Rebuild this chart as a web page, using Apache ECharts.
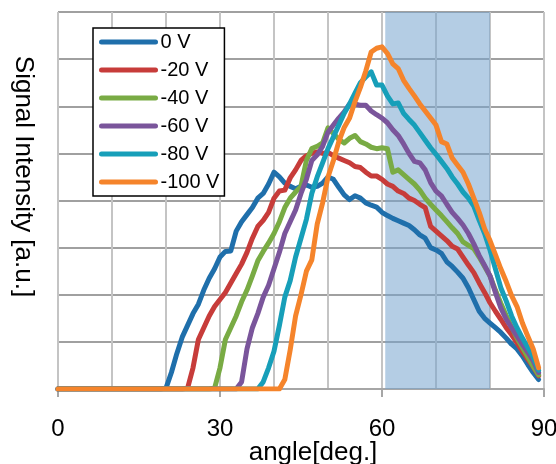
<!DOCTYPE html>
<html><head><meta charset="utf-8">
<script src="https://cdn.jsdelivr.net/npm/echarts@6/dist/echarts.min.js"></script>
<style>html,body{margin:0;padding:0;background:#fff}#c{width:556px;height:464px}</style>
</head><body><div id="c"></div>
<script>
const angles = [0,1,2,3,4,5,6,7,8,9,10,11,12,13,14,15,16,17,18,19,20,21,22,23,24,25,26,27,28,29,30,31,32,33,34,35,36,37,38,39,40,41,42,43,44,45,46,47,48,49,50,51,52,53,54,55,56,57,58,59,60,61,62,63,64,65,66,67,68,69,70,71,72,73,74,75,76,77,78,79,80,81,82,83,84,85,86,87,88,89];
const seriesNames = ['0 V','-20 V','-40 V','-60 V','-80 V','-100 V'];
const v0V = [0,0,0,0,0,0,0,0,0,0,0,0,0,0,0,0,0,0,0,0,
  0.02,0.35,0.75,1.1,1.35,1.6,1.8,2.1,2.35,2.55,2.8,2.92,2.93,3.35,3.55,3.7,3.85,4.05,4.15,4.35,
  4.6,4.5,4.37,4.3,4.25,4.3,4.33,4.28,4.3,4.37,4.5,4.45,4.28,4.12,4.02,4.1,4.05,3.95,3.9,3.86,
  3.75,3.68,3.62,3.57,3.52,3.47,3.38,3.27,3.2,3.0,2.95,2.88,2.7,2.6,2.48,2.35,2.15,1.9,1.65,1.5,
  1.4,1.3,1.2,1.08,0.95,0.85,0.7,0.52,0.35,0.2];
const vM20V = [0,0,0,0,0,0,0,0,0,0,0,0,0,0,0,0,0,0,0,0,0,0,0,0,
  0.02,0.45,1.05,1.3,1.55,1.75,1.9,2.05,2.25,2.45,2.65,2.9,3.2,3.45,3.58,3.75,
  4.05,4.2,4.22,4.48,4.65,4.85,4.95,5.0,5.03,5.0,5.02,4.95,4.9,4.85,4.8,4.72,4.7,4.6,4.52,4.52,
  4.45,4.35,4.3,4.2,4.15,4.05,4.0,3.92,3.85,3.45,3.35,3.25,3.15,3.03,2.97,2.8,2.63,2.47,2.25,2.05,
  1.83,1.65,1.48,1.3,1.15,0.98,0.8,0.63,0.47,0.28];
const vM40V = [0,0,0,0,0,0,0,0,0,0,0,0,0,0,0,0,0,0,0,0,0,0,0,0,0,0,0,0,0,0.02,
  0.45,1.05,1.3,1.55,1.85,2.1,2.4,2.72,2.92,3.1,
  3.3,3.55,3.85,4.05,4.18,4.3,4.85,5.1,5.15,5.22,5.54,5.42,5.3,5.22,5.32,5.38,5.25,5.2,5.13,5.1,
  5.12,5.1,4.6,4.65,4.55,4.45,4.35,4.22,4.05,3.92,3.8,3.68,3.55,3.42,3.3,3.12,3.05,2.98,2.8,2.6,
  2.4,2.1,1.82,1.56,1.32,1.08,0.88,0.68,0.48,0.3];
const vM60V = [0,0,0,0,0,0,0,0,0,0,0,0,0,0,0,0,0,0,0,0,0,0,0,0,0,0,0,0,0,0,0,0,0,0,
  0.15,0.85,1.3,1.6,1.95,2.2,
  2.55,2.9,3.3,3.55,3.8,4.15,4.45,4.85,4.97,5.15,5.45,5.6,5.75,5.88,6.05,6.05,6.02,6.02,5.9,5.82,
  5.75,5.65,5.5,5.38,5.2,5.0,4.83,4.8,4.65,4.38,4.2,4.1,3.92,3.75,3.62,3.48,3.3,3.08,2.83,2.62,
  2.4,2.05,1.72,1.48,1.3,1.12,0.95,0.78,0.6,0.35];
const vM80V = [0,0,0,0,0,0,0,0,0,0,0,0,0,0,0,0,0,0,0,0,0,0,0,0,0,0,0,0,0,0,0,0,0,0,0,0,0,0,
  0.15,0.45,
  0.8,1.35,1.95,2.3,2.8,3.2,3.6,4.15,4.5,4.8,5.1,5.35,5.6,5.85,6.05,6.28,6.5,6.62,6.73,6.45,
  6.45,6.22,6.05,6.07,5.85,5.72,5.6,5.44,5.28,5.12,4.98,4.83,4.68,4.5,4.35,4.18,4.05,3.88,3.58,3.3,
  2.95,2.55,2.15,1.87,1.55,1.3,1.08,0.88,0.68,0.4];
const vM100V = [0,0,0,0,0,0,0,0,0,0,0,0,0,0,0,0,0,0,0,0,0,0,0,0,0,0,0,0,0,0,0,0,0,0,0,0,0,0,0,0,
  0,0,0.2,0.83,1.55,2.0,2.5,2.74,3.5,3.95,4.5,4.85,5.25,5.55,5.75,6.1,6.4,6.75,7.15,7.23,
  7.26,7.12,6.9,6.8,6.55,6.38,6.22,6.05,5.9,5.75,5.6,5.25,5.2,4.9,4.75,4.6,4.35,4.05,3.75,3.4,
  3.15,2.85,2.55,2.28,1.98,1.75,1.4,1.12,0.85,0.45];
const allValues = [v0V, vM20V, vM40V, vM60V, vM80V, vM100V];
const colors = ['#1f6fab','#c73c3a','#79ab44','#7a559b','#179fb9','#f5842b'];
const shadedRange = [60.6, 80];

const chart = echarts.init(document.getElementById('c'), null, {renderer:'canvas'});
const FONT = 'Liberation Sans';
const series = seriesNames.map((name, i) => ({
  name: name,
  type: 'line',
  data: angles.map((a, k) => [a, allValues[i][k]]),
  symbol: 'none',
  showSymbol: false,
  smooth: false,
  animation: false,
  z: 3 + i,
  lineStyle: {color: colors[i], width: 5, cap: 'round', join: 'round'},
  itemStyle: {color: colors[i]}
}));
series.unshift({
  type: 'line',
  data: [],
  silent: true,
  z: 2,
  markArea: {
    silent: true,
    itemStyle: {color: 'rgba(118,164,206,0.55)'},
    data: [[{xAxis: shadedRange[0]}, {xAxis: shadedRange[1]}]]
  }
});

chart.setOption({
  animation: false,
  backgroundColor: '#fff',
  textStyle: {fontFamily: FONT},
  grid: {left: 58, right: 12, top: 12, bottom: 75, containLabel: false, outerBoundsMode: 'none'},
  legend: {
    data: seriesNames,
    orient: 'vertical',
    left: 93, top: 28,
    padding: [4, 5, 4, 6],
    itemWidth: 54, itemHeight: 14, itemGap: 8,
    backgroundColor: '#fff',
    borderColor: '#000', borderWidth: 1.5,
    textStyle: {fontFamily: FONT, fontSize: 20, color: '#000', lineHeight: 20},
    lineStyle: {width: 5, cap: 'round'},
    itemStyle: {opacity: 0}
  },
  xAxis: {
    type: 'value', min: 0, max: 90, interval: 30,
    name: 'angle[deg.]', nameLocation: 'middle', nameGap: 51, nameMoveOverlap: false,
    nameTextStyle: {fontFamily: FONT, fontSize: 26, color: '#000', padding: [0, 0, 0, 24]},
    axisLine: {show: true, lineStyle: {color: '#a6a6a6', width: 2}},
    axisTick: {show: true, length: 8, lineStyle: {color: '#a6a6a6', width: 2}},
    axisLabel: {margin: 28, fontFamily: FONT, fontSize: 24, color: '#000'},
    splitLine: {show: true, lineStyle: {color: '#c4c4c4', width: 2}},
    minorTick: {show: false, splitNumber: 3},
    minorSplitLine: {show: true, lineStyle: {color: '#c4c4c4', width: 2}}
  },
  yAxis: {
    type: 'value', min: 0, max: 8, interval: 1,
    name: 'Signal Intensity [a.u.]', nameLocation: 'middle', nameGap: 22, nameRotate: -90, nameMoveOverlap: false,
    nameTextStyle: {fontFamily: FONT, fontSize: 26, color: '#000', padding: [0, 48, 0, 0]},
    axisLine: {show: false}, axisTick: {show: false}, axisLabel: {show: false},
    splitLine: {show: true, lineStyle: {color: '#a0a0a0', width: 2}}
  },
  series: series
});
</script></body></html>
